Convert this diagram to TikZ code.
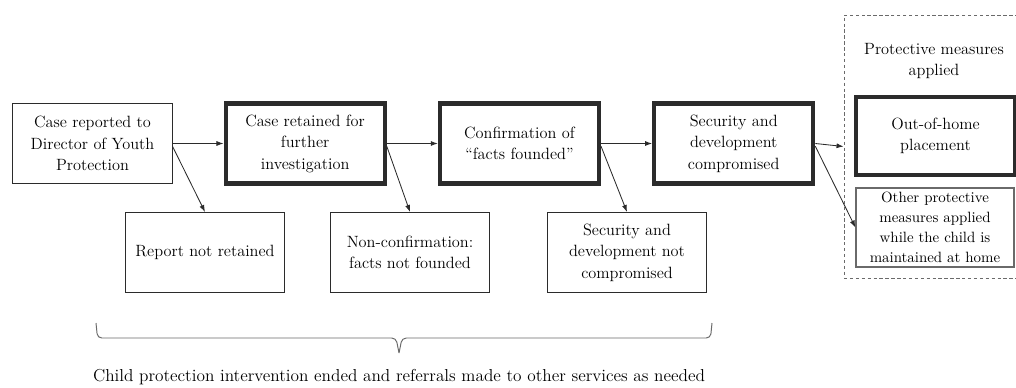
\documentclass[tikz,border=0pt]{standalone}
\usepackage{fontspec}
\usetikzlibrary{positioning,arrows.meta}
\definecolor{cLine}{HTML}{2B2B2B}
\definecolor{cSoft}{HTML}{6A6A6A}

\begin{document}
\begin{tikzpicture}[x=0.025cm,y=-0.025cm,
    every node/.style={font=\fontsize{11.6}{15.3}\selectfont,align=center,text=black},
    stagebox/.style={draw=cLine,line width=0.7pt,minimum width=3.975cm,minimum height=2cm,inner sep=2pt},
    keybox/.style={stagebox,line width=3pt},
    sidebox/.style={draw=cSoft,line width=0.8pt,minimum width=3.95cm,minimum height=1.975cm,inner sep=2pt,
      font=\fontsize{10.6}{14.2}\selectfont},
    groupbox/.style={draw=cSoft,line width=0.6pt,dash pattern=on 2.4pt off 1.8pt,
      minimum width=4.65cm,minimum height=6.575cm},
    flow/.style={draw=cLine,line width=0.6pt,-{Latex[length=5pt,width=3.6pt]}}]
  \useasboundingbox (0,0) rectangle (1016,387);
  \clip (0,0) rectangle (1016,387);

  % main path
  \node[stagebox] (reported) at (92.5,143.5) {Case reported to\\Director of Youth\\Protection};
  \node[keybox,right=1.275cm of reported] (retained) {Case retained for\\further\\investigation};
  \node[keybox,right=1.275cm of retained] (founded) {Confirmation of\\``facts founded''};
  \node[keybox,right=1.275cm of founded] (compromised) {Security and\\development\\compromised};

  % exits
  \node[stagebox] (notretained) at (205,252.5) {Report not retained};
  \node[stagebox] (notfounded) at (410,252.5) {Non-confirmation:\\facts not founded};
  \node[stagebox] (notcompromised) at (627,252.5) {Security and\\development not\\compromised};

  % protective measures
  \node[groupbox] (measures) at (937,146.5) {};
  \node (measurestitle) at (934,61) {Protective measures\\applied};
  \node[keybox,minimum height=1.95cm] (placement) at (935.5,136) {Out-of-home\\placement};
  \node[sidebox] (athome) at (935,227.5) {Other protective\\measures applied\\while the child is\\maintained at home};

  \draw[flow] (reported.east) -- (retained.west);
  \draw[flow] (retained.east) -- (founded.west);
  \draw[flow] (founded.east) -- (compromised.west);
  \draw[flow] (compromised.east) -- (measures.west);
  \draw[flow] ([yshift=-2pt]reported.east) -- (notretained.north);
  \draw[flow] ([yshift=-2pt]retained.east) -- (notfounded.north);
  \draw[flow] ([yshift=-2pt]founded.east) -- (notcompromised.north);
  \draw[flow] ([yshift=-2pt]compromised.east) -- (athome.west);

  % brace
  \coordinate (braceL) at (96,323);
  \coordinate (braceR) at (712,323);
  \coordinate (braceTip) at (399,353);
  \draw[cSoft,line width=0.7pt,rounded corners=3pt]
    (braceL) -- (97.5,338) -- (396,338) -- (braceTip)
    (braceR) -- (710.5,338) -- (402,338) -- (braceTip);
  \node[font=\fontsize{12.3}{15.3}\selectfont] (ended) at (399,377) {Child protection intervention ended and referrals made to other services as needed};
\end{tikzpicture}
\end{document}
